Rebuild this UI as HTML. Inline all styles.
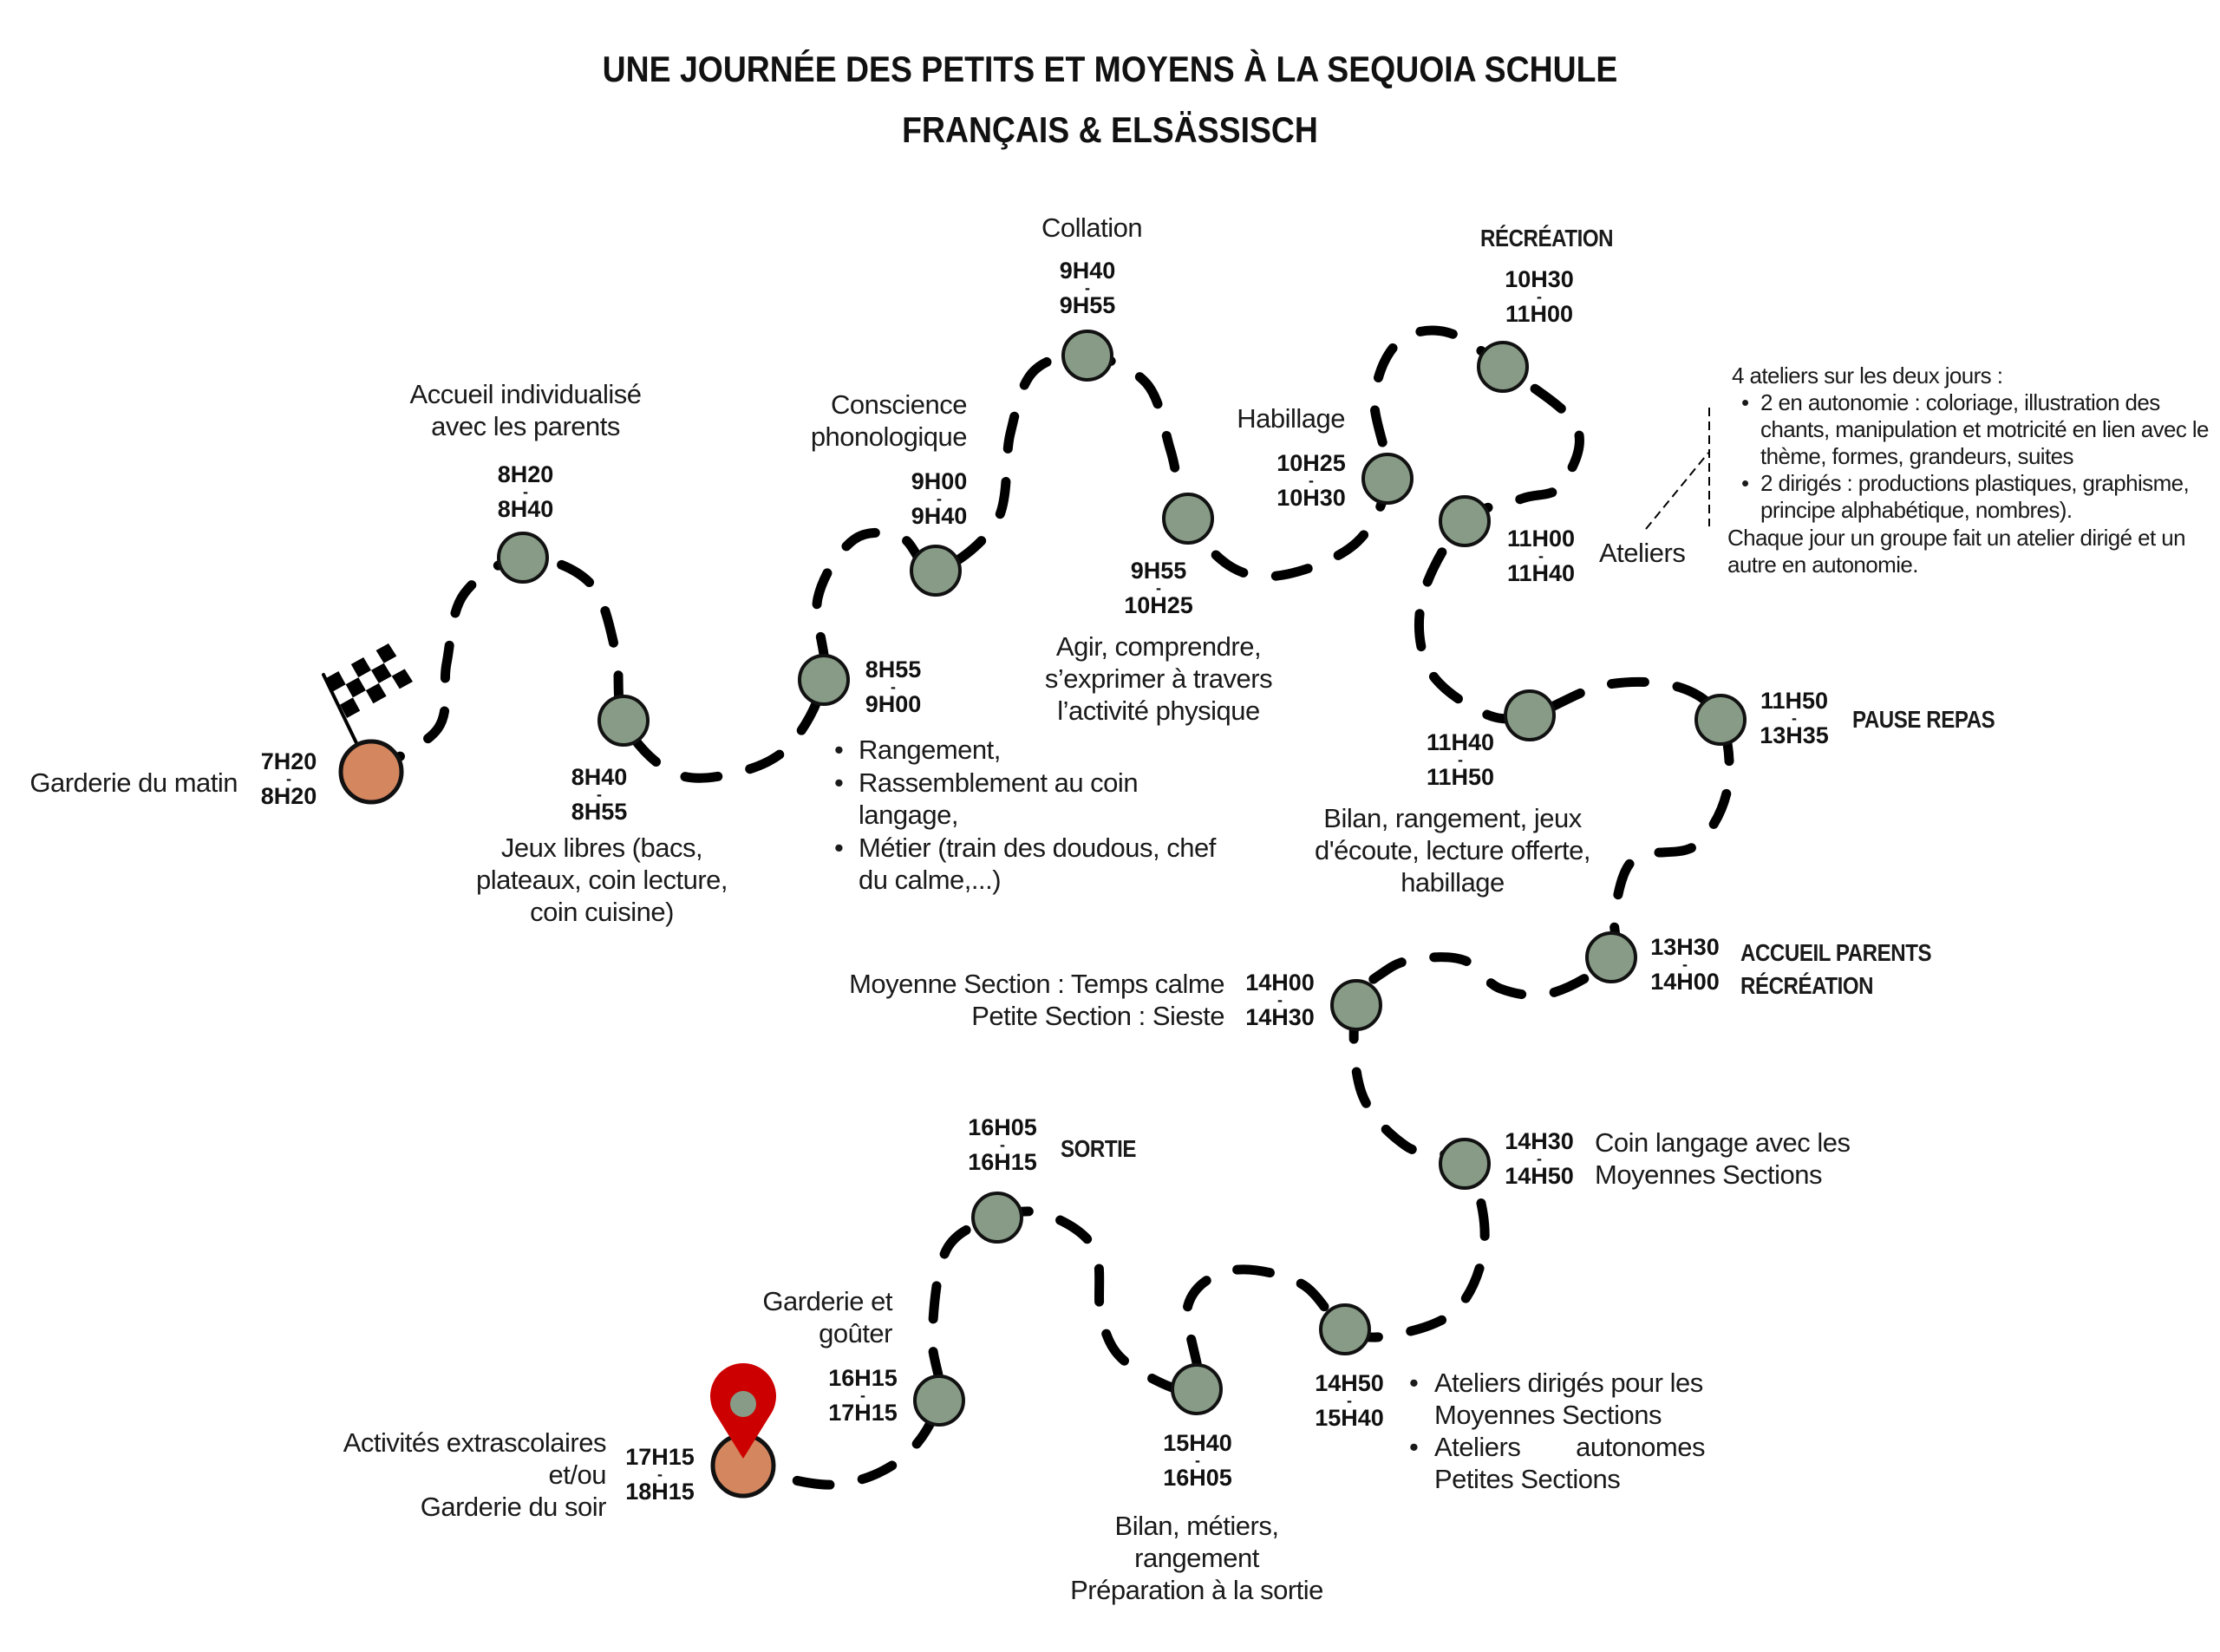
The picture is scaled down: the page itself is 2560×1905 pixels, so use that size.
<!DOCTYPE html>
<html><head><meta charset="utf-8">
<style>
html,body{margin:0;padding:0;background:#fff;}
#c{position:relative;width:2560px;height:1905px;overflow:hidden;background:#fff;font-family:"Liberation Sans",sans-serif;color:#1a1a1a;}
.t{position:absolute;font-size:31px;line-height:37px;white-space:nowrap;letter-spacing:-0.5px;}
.r{text-align:right;}
.c{text-align:center;}
.b{font-weight:bold;font-size:28px;transform:scaleX(0.86);transform-origin:left top;}
.tm{position:absolute;font-weight:bold;font-size:27px;line-height:20px;text-align:center;white-space:nowrap;color:#111;}
.tm span{display:block;font-size:18px;line-height:20px;height:20px;}
.s{font-size:26px;line-height:31px;letter-spacing:-0.6px;}
.ttl{position:absolute;left:0;width:2560px;text-align:center;font-weight:bold;font-size:42px;color:#111;transform:scaleX(0.89);transform-origin:center top;}
</style></head><body><div id="c">
<svg id="sv" width="2560" height="1905" style="position:absolute;left:0;top:0">
<path id="road" fill="none" stroke="#000" stroke-width="11" stroke-linecap="round" stroke-dasharray="38 38"/>
<g id="flag"></g>
<line x1="428" y1="892" x2="373" y2="778" stroke="#000" stroke-width="4" stroke-linecap="round"/>
<g id="nodes"></g>
<line x1="1971" y1="470" x2="1971" y2="607" stroke="#000" stroke-width="2" stroke-dasharray="10 6"/>
<line x1="1898" y1="610" x2="1970" y2="522" stroke="#000" stroke-width="2" stroke-dasharray="10 6"/>
<path d="M857 1682 L826 1632 A38 38 0 1 1 888 1632 Z" fill="#cc0000"/>
<circle cx="857" cy="1619" r="15" fill="#879b86"/>
</svg>

<div class="ttl" style="top:56px">UNE JOURNÉE DES PETITS ET MOYENS À LA SEQUOIA SCHULE</div>
<div class="ttl" style="top:126px">FRANÇAIS &amp; ELSÄSSISCH</div>

<div class="t r" style="right:2286px;top:884px">Garderie du matin</div>
<div class="tm" style="left:298px;width:70px;top:868px">7H20<span>-</span>8H20</div>

<div class="t c" style="left:406px;width:400px;top:436px">Accueil individualisé<br>avec les parents</div>
<div class="tm" style="left:571px;width:70px;top:537px">8H20<span>-</span>8H40</div>

<div class="tm" style="left:656px;width:70px;top:886px">8H40<span>-</span>8H55</div>
<div class="t c" style="left:494px;width:400px;top:959px">Jeux libres (bacs,<br>plateaux, coin lecture,<br>coin cuisine)</div>

<div class="t r" style="right:1445px;top:448px">Conscience<br>phonologique</div>
<div class="tm" style="left:1048px;width:70px;top:545px">9H00<span>-</span>9H40</div>
<div class="tm" style="left:995px;width:70px;top:762px">8H55<span>-</span>9H00</div>
<div class="t" style="left:962px;top:846px;line-height:37.5px">•<br>•<br><br>•</div>
<div class="t" style="left:990px;top:846px;line-height:37.5px">Rangement,<br>Rassemblement au coin<br>langage,<br>Métier (train des doudous, chef<br>du calme,...)</div>

<div class="t c" style="left:1109px;width:300px;top:244px">Collation</div>
<div class="tm" style="left:1219px;width:70px;top:302px">9H40<span>-</span>9H55</div>
<div class="tm" style="left:1296px;width:80px;top:648px">9H55<span>-</span>10H25</div>
<div class="t c" style="left:1136px;width:400px;top:727px">Agir, comprendre,<br>s’exprimer à travers<br>l’activité physique</div>

<div class="t r" style="right:1009px;top:464px">Habillage</div>
<div class="tm" style="left:1472px;width:80px;top:524px">10H25<span>-</span>10H30</div>

<div class="t b" style="left:1707px;top:256px">RÉCRÉATION</div>
<div class="tm" style="left:1735px;width:80px;top:312px">10H30<span>-</span>11H00</div>
<div class="tm" style="left:1737px;width:80px;top:611px">11H00<span>-</span>11H40</div>
<div class="t" style="left:1844px;top:619px">Ateliers</div>

<div class="t s" style="left:1997px;top:418px">4 ateliers sur les deux jours :</div>
<div class="t s" style="left:2008px;top:449px">•<br><br><br>•</div>
<div class="t s" style="left:2030px;top:449px">2 en autonomie : coloriage, illustration des<br>chants, manipulation et motricité en lien avec le<br>thème, formes, grandeurs, suites<br>2 dirigés : productions plastiques, graphisme,<br>principe alphabétique, nombres).</div>
<div class="t s" style="left:1992px;top:605px">Chaque jour un groupe fait un atelier dirigé et un<br>autre en autonomie.</div>

<div class="tm" style="left:1644px;width:80px;top:846px">11H40<span>-</span>11H50</div>
<div class="t c" style="left:1475px;width:400px;top:925px">Bilan, rangement, jeux<br>d'écoute, lecture offerte,<br>habillage</div>

<div class="tm" style="left:2029px;width:80px;top:798px">11H50<span>-</span>13H35</div>
<div class="t b" style="left:2136px;top:811px">PAUSE REPAS</div>

<div class="tm" style="left:1903px;width:80px;top:1082px">13H30<span>-</span>14H00</div>
<div class="t b" style="left:2007px;top:1080px;line-height:38px">ACCUEIL PARENTS<br>RÉCRÉATION</div>

<div class="t r" style="right:1148px;top:1116px">Moyenne Section : Temps calme<br>Petite Section : Sieste</div>
<div class="tm" style="left:1436px;width:80px;top:1123px">14H00<span>-</span>14H30</div>

<div class="tm" style="left:1735px;width:80px;top:1306px">14H30<span>-</span>14H50</div>
<div class="t" style="left:1839px;top:1299px">Coin langage avec les<br>Moyennes Sections</div>

<div class="tm" style="left:1116px;width:80px;top:1290px">16H05<span>-</span>16H15</div>
<div class="t b" style="left:1223px;top:1306px">SORTIE</div>

<div class="t r" style="right:1531px;top:1482px">Garderie et<br>goûter</div>
<div class="tm" style="left:955px;width:80px;top:1579px">16H15<span>-</span>17H15</div>

<div class="tm" style="left:1516px;width:80px;top:1585px">14H50<span>-</span>15H40</div>
<div class="t" style="left:1625px;top:1576px">•<br><br>•</div>
<div class="t" style="left:1654px;top:1576px">Ateliers dirigés pour les<br>Moyennes Sections</div>
<div class="t" style="left:1654px;top:1650px">Ateliers</div>
<div class="t r" style="right:594px;top:1650px">autonomes</div>
<div class="t" style="left:1654px;top:1687px">Petites Sections</div>

<div class="tm" style="left:1341px;width:80px;top:1654px">15H40<span>-</span>16H05</div>
<div class="t c" style="left:1180px;width:400px;top:1741px">Bilan, métiers,<br>rangement<br>Préparation à la sortie</div>

<div class="t r" style="right:1861px;top:1645px">Activités extrascolaires<br>et/ou<br>Garderie du soir</div>
<div class="tm" style="left:721px;width:80px;top:1670px">17H15<span>-</span>18H15</div>

<script>
var P=[[428,890],[505,840],[515,765],[535,685],[603,643],[680,672],[710,752],[719,831],[770,888],[830,895],[905,865],[950,784],[943,690],[985,622],[1040,620],[1079,658],[1150,600],[1165,500],[1192,428],[1254,410],[1322,442],[1350,520],[1370,598],[1422,655],[1485,662],[1565,625],[1600,552],[1585,460],[1612,395],[1668,383],[1733,423],[1818,492],[1800,560],[1755,575],[1689,601],[1640,690],[1648,772],[1710,822],[1764,825],[1850,790],[1935,792],[1984,830],[1992,910],[1955,975],[1885,990],[1862,1050],[1858,1104],[1790,1145],[1730,1140],[1690,1108],[1640,1105],[1600,1118],[1564,1159],[1570,1260],[1622,1322],[1689,1342],[1712,1430],[1680,1510],[1603,1540],[1551,1533],[1500,1480],[1420,1465],[1370,1505],[1380,1602],[1300,1572],[1270,1520],[1262,1440],[1205,1400],[1150,1404],[1092,1440],[1075,1540],[1083,1615],[1040,1682],[960,1712],[857,1692]];
var d="M"+P[0][0]+" "+P[0][1];
for(var i=0;i<P.length-1;i++){var p0=P[Math.max(i-1,0)],p1=P[i],p2=P[i+1],p3=P[Math.min(i+2,P.length-1)];
d+=" C"+(p1[0]+(p2[0]-p0[0])/6)+" "+(p1[1]+(p2[1]-p0[1])/6)+" "+(p2[0]-(p3[0]-p1[0])/6)+" "+(p2[1]-(p3[1]-p1[1])/6)+" "+p2[0]+" "+p2[1];}
document.getElementById('road').setAttribute('d',d);
var N=[[603,643],[719,831],[950,784],[1079,658],[1254,410],[1370,598],[1600,552],[1733,423],[1689,601],[1764,825],[1984,830],[1858,1104],[1564,1159],[1689,1342],[1551,1533],[1380,1602],[1150,1404],[1083,1615]];
var g="";N.forEach(function(n){g+='<circle cx="'+n[0]+'" cy="'+n[1]+'" r="28" fill="#879b86" stroke="#111" stroke-width="4"/>';});
g+='<circle cx="428" cy="890" r="35" fill="#d4865f" stroke="#111" stroke-width="5"/>';
g+='<circle cx="857" cy="1690" r="35" fill="#d4865f" stroke="#111" stroke-width="5"/>';
document.getElementById('nodes').innerHTML=g;
var A=[376,782],B=[448,742],C=[476,786],D=[400,828],f="";var R=3,K=5;
function lp(a,b,t){return [a[0]+(b[0]-a[0])*t,a[1]+(b[1]-a[1])*t];}
function pt(u,v){var top=lp(A,B,u),bot=lp(D,C,u);return lp(top,bot,v);}
for(var r=0;r<R;r++)for(var k=0;k<K;k++){if((r+k)%2)continue;var q=[pt(k/K,r/R),pt((k+1)/K,r/R),pt((k+1)/K,(r+1)/R),pt(k/K,(r+1)/R)];
f+='<polygon points="'+q.map(function(x){return x.join(",")}).join(" ")+'" fill="#000"/>';}
document.getElementById('flag').innerHTML=f;
</script>
</div></body></html>
